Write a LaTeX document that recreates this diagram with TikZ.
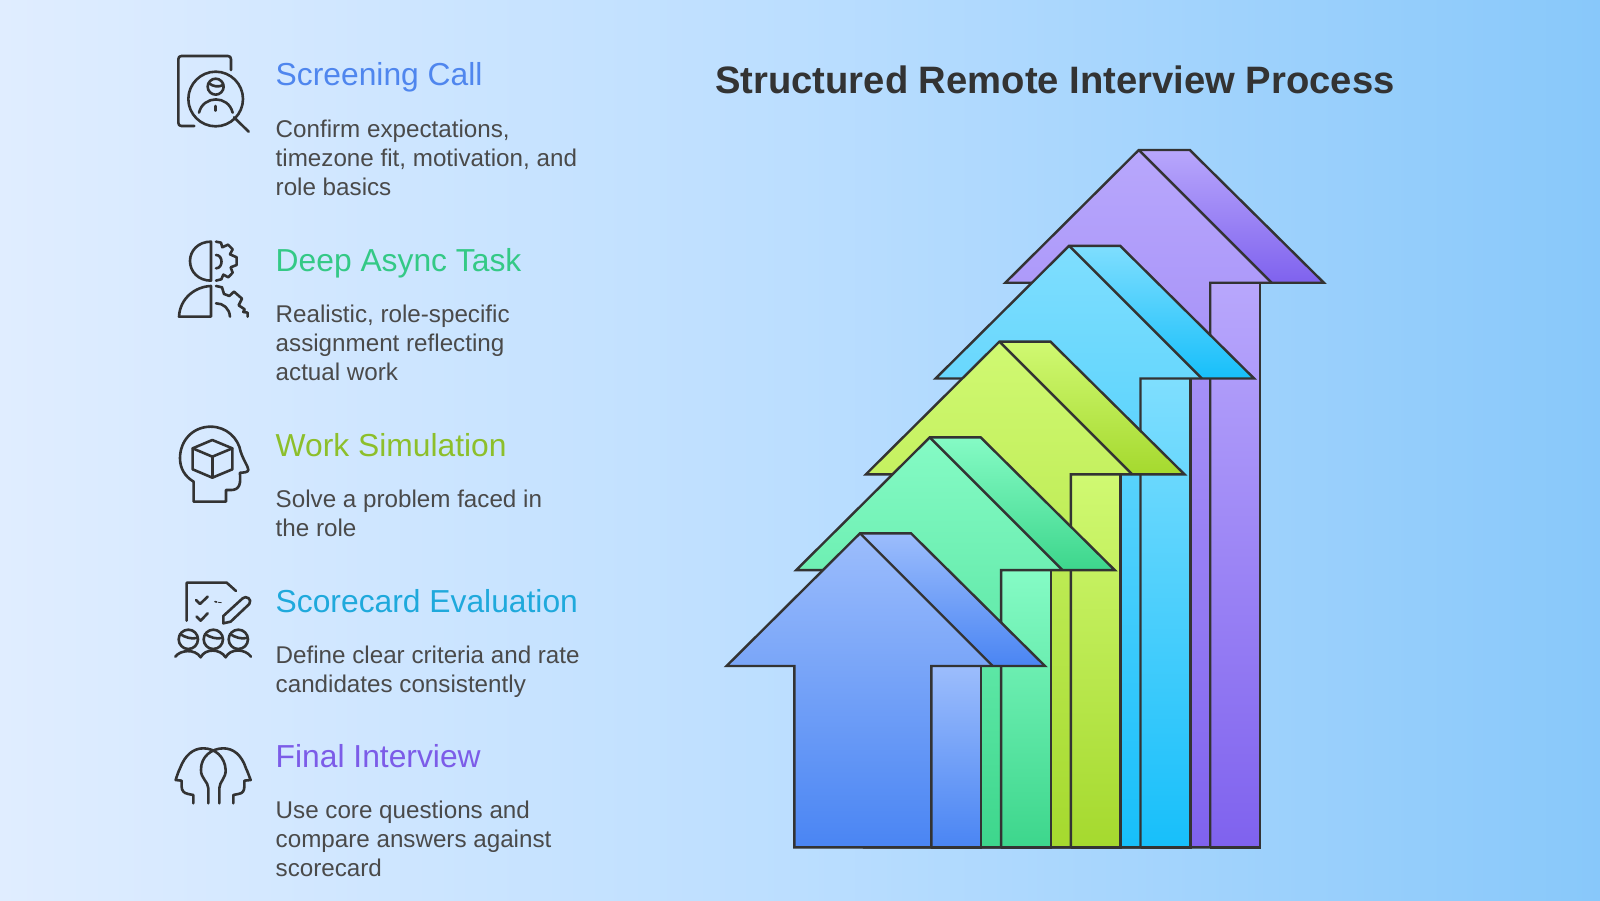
\documentclass[tikz,border=0pt]{standalone}
\usepackage{fontspec}
\setmainfont{Liberation Sans}
\definecolor{ink}{HTML}{333333}
\definecolor{bodyc}{HTML}{4A4A4A}
\definecolor{bgl}{HTML}{E0EDFF}
\definecolor{bgm}{HTML}{BBDEFF}
\definecolor{bgr}{HTML}{88C8FA}
\definecolor{tblue}{HTML}{4F86EE}
\definecolor{tgreen}{HTML}{34C986}
\definecolor{tlime}{HTML}{8DBF2B}
\definecolor{tcyan}{HTML}{1FA9DC}
\definecolor{tpurple}{HTML}{7C5CE8}
\definecolor{al1}{HTML}{B8A7FC}\definecolor{ad1}{HTML}{7F62EE}
\definecolor{al2}{HTML}{7FDEFE}\definecolor{ad2}{HTML}{17BFFA}
\definecolor{al3}{HTML}{D0F972}\definecolor{ad3}{HTML}{A5D92E}
\definecolor{al4}{HTML}{85FBC5}\definecolor{ad4}{HTML}{3DD68C}
\definecolor{al5}{HTML}{9CBDFC}\definecolor{ad5}{HTML}{4A85F3}
\tikzset{
  x=1pt,y=-1pt,
  ttl/.style={anchor=base west,inner sep=0pt,font=\fontsize{31.8}{32}\selectfont},
  bdy/.style={anchor=base west,inner sep=0pt,text=bodyc,font=\fontsize{24.2}{29.2}\selectfont},
  ico/.style={draw=ink,line width=2.6pt,line cap=round,line join=round},
  edge/.style={draw=ink,line width=2.4pt,line join=miter},
}
\newcommand{\lines}[1]{\begin{tabular}[t]{@{}l@{}}#1\end{tabular}}
% #1 offset x, #2 apex y, #3 light, #4 dark
\newcommand{\steparrow}[4]{%
  \begin{scope}[shift={(#1,#2)}]
    \pgfmathsetmacro{\botv}{847.3-#2}
    \path[bottom color=#4,top color=#3]
      (0,0) -- (132.7,132.7) -- (71.4,132.7) -- (71.4,\botv) -- (-65.7,\botv) -- (-65.7,132.7) -- (-133.5,132.7) -- cycle;
    \path[bottom color=#4,top color=#3]
      (0,0) -- (51,0) -- (185,132.7) -- (132.7,132.7) -- cycle;
    \path[bottom color=#4,top color=#3]
      (71.4,132.7) -- (121.2,132.7) -- (121.2,\botv) -- (71.4,\botv) -- cycle;
    \draw[edge] (0,0) -- (51,0) -- (185,132.7) -- (71.4,132.7) -- (71.4,\botv) -- (-65.7,\botv) -- (-65.7,132.7) -- (-133.5,132.7) -- cycle;
    \draw[edge] (0,0) -- (132.7,132.7);
    \draw[edge] (121.2,132.7) -- (121.2,\botv) -- (71.4,\botv);
  \end{scope}}
\begin{document}
\begin{tikzpicture}
\useasboundingbox (0,0) rectangle (1600,900);
\fill[left color=bgl,right color=bgr,middle color=bgm] (0,0) rectangle (1600,900);

\node[anchor=base west,inner sep=0pt,text=ink,font=\fontsize{38.2}{38.2}\selectfont\bfseries] (title) at (715,93) {Structured Remote Interview Process};

\steparrow{1138.8}{150.0}{al1}{ad1}
\steparrow{1069.1}{245.8}{al2}{ad2}
\steparrow{999.4}{341.6}{al3}{ad3}
\steparrow{929.7}{437.4}{al4}{ad4}
\steparrow{860.0}{533.3}{al5}{ad5}

\node[ttl,text=tblue] (t1) at (275.5,85) {Screening Call};
\node[bdy] (b1) at (275.5,137) {\lines{Confirm expectations,\\timezone fit, motivation, and\\role basics}};
\node[ttl,text=tgreen] (t2) at (275.5,271) {Deep Async Task};
\node[bdy] (b2) at (275.5,322) {\lines{Realistic, role-specific\\assignment reflecting\\actual work}};
\node[ttl,text=tlime] (t3) at (275.5,456) {Work Simulation};
\node[bdy] (b3) at (275.5,507) {\lines{Solve a problem faced in\\the role}};
\node[ttl,text=tcyan] (t4) at (275.5,612) {Scorecard Evaluation};
\node[bdy] (b4) at (275.5,663) {\lines{Define clear criteria and rate\\candidates consistently}};
\node[ttl,text=tpurple] (t5) at (275.5,767) {Final Interview};
\node[bdy] (b5) at (275.5,818) {\lines{Use core questions and\\compare answers against\\scorecard}};

% icon 1
\begin{scope}[shift={(160,40)},x=.3333pt,y=-.3333pt]
 \draw[ico] (213,90) -- (213,58) .. controls (213,52) and (210,48) .. (204,48) -- (64,48) .. controls (58,48) and (55,52) .. (55,58) -- (55,248) .. controls (55,254) and (58,258) .. (64,258) -- (103,258);
 \draw[ico] (167,95) .. controls (212,95) and (249,132) .. (249,177) .. controls (249,222) and (212,259) .. (167,259) .. controls (122,259) and (85,222) .. (85,177) .. controls (85,132) and (122,95) .. (167,95) -- cycle;
 \draw[ico] (167,116) .. controls (180,116) and (191,127) .. (191,140) .. controls (191,153) and (180,164) .. (167,164) .. controls (154,164) and (143,153) .. (143,140) .. controls (143,127) and (154,116) .. (167,116) -- cycle;
 \draw[ico] (147,130) .. controls (160,140) and (175,142) .. (190,135);
 \draw[ico] (117,218) .. controls (130,165) and (205,165) .. (218,218);
 \draw[ico] (167,198) -- (167,212);
 \draw[ico] (222,232) -- (266,275);
\end{scope}
% icon 2
\begin{scope}[shift={(160,40)},x=.3333pt,y=-.3333pt]
 \draw[ico] (153,605) -- (153,722) .. controls (115,722) and (90,695) .. (90,663) .. controls (90,632) and (115,605) .. (153,605) -- cycle;
 \draw[ico] (168,605) -- (183,608) -- (187,622) -- (204,614) -- (218,628) -- (210,643) -- (230,652) -- (230,675) -- (212,682) -- (218,698) -- (205,712) -- (190,704) -- (184,718) -- (168,722);
 \draw[ico] (168,645) .. controls (190,645) and (190,685) .. (168,685);
 \draw[ico] (153,738) -- (153,830) -- (57,830) .. controls (60,775) and (105,740) .. (153,738) -- cycle;
 \draw[ico] (168,738) -- (186,742) -- (192,762) -- (208,768) -- (222,755) -- (246,776) -- (236,796) -- (254,808) -- (250,816) -- (263,818) -- (263,830);
 \draw[ico] (168,790) .. controls (190,790) and (208,805) .. (210,830);
\end{scope}
% icon 3 and page of icon 4
\begin{scope}[shift={(160,410)},x=.3333pt,y=-.3333pt]
 \draw[ico] (101,215) .. controls (75,200) and (60,175) .. (60,145) .. controls (60,90) and (100,50) .. (152,50) .. controls (200,50) and (235,85) .. (242,125) .. controls (250,150) and (265,170) .. (265,180) .. controls (265,187) and (250,188) .. (240,188) .. controls (240,200) and (242,215) .. (238,225) .. controls (235,235) and (225,240) .. (215,240) -- (198,240) -- (198,275) -- (101,275) -- cycle;
 \draw[ico] (157,90) -- (217,115) -- (217,178) -- (157,203) -- (98,178) -- (98,115) -- cycle;
 \draw[ico] (98,115) -- (157,140) -- (217,115);
 \draw[ico] (157,140) -- (157,203);
 \draw[ico] (80,632) -- (80,518) -- (200,518) -- (228,543);
 \draw[ico] (108,570) -- (120,582) -- (143,560);
 \draw[ico] (110,620) -- (122,632) -- (143,610);
 \draw[ico,line width=1.6pt] (165,575) -- (170,576);
 \draw[ico,line width=.8pt] (175,577) -- (184,578);
 \draw[ico] (190,640) -- (190,618) -- (248,565) .. controls (258,555) and (278,568) .. (268,582) -- (212,635) -- cycle;
\end{scope}
% people of icon 4 and icon 5
\begin{scope}[shift={(160,630)},x=.3333pt,y=-.3333pt]
 \foreach \cx in {85,160,235}{
  \draw[ico] (\cx,-1) .. controls ({\cx+16},-1) and ({\cx+29},12) .. ({\cx+29},28) .. controls ({\cx+29},44) and ({\cx+16},57) .. (\cx,57) .. controls ({\cx-16},57) and ({\cx-29},44) .. ({\cx-29},28) .. controls ({\cx-29},12) and ({\cx-16},-1) .. (\cx,-1) -- cycle;
  \draw[ico] ({\cx-25},12) .. controls ({\cx-10},22) and ({\cx+10},28) .. ({\cx+25},24);
 }
 \draw[ico] (46,80) .. controls (60,60) and (105,55) .. (122,82) .. controls (135,55) and (180,55) .. (197,82) .. controls (210,55) and (255,55) .. (273,80);
 \draw[ico] (100,520) -- (100,495) -- (85,492) .. controls (70,490) and (65,480) .. (65,470) -- (65,452) -- (47,450) .. controls (50,440) and (55,425) .. (60,415) .. controls (75,375) and (100,355) .. (130,355) .. controls (165,355) and (195,380) .. (197,420) .. controls (198,445) and (178,455) .. (178,475) -- (178,520);
 \draw[ico] (220,520) -- (220,495) -- (235,492) .. controls (250,490) and (253,480) .. (253,470) -- (253,452) -- (272,450) .. controls (268,440) and (263,425) .. (258,415) .. controls (245,375) and (220,355) .. (190,355) .. controls (155,355) and (122,380) .. (123,420) .. controls (122,445) and (145,455) .. (145,475) -- (145,520);
\end{scope}
\end{tikzpicture}
\end{document}
